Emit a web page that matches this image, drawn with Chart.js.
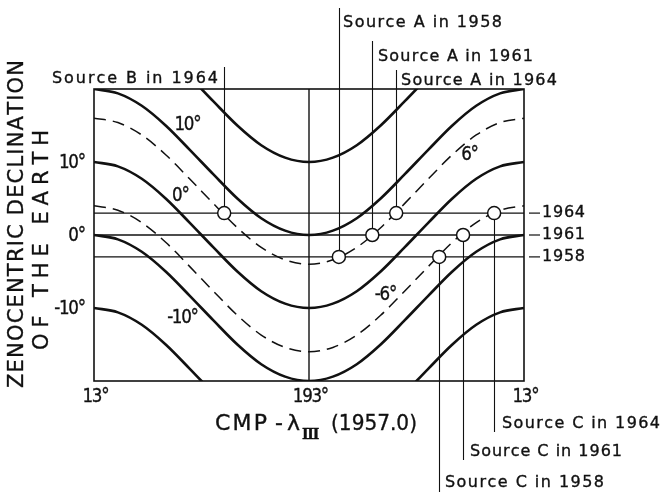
<!DOCTYPE html>
<html>
<head>
<meta charset="utf-8">
<script src="https://cdn.jsdelivr.net/npm/chart.js@4/dist/chart.umd.min.js"></script>
<style>
  html, body { margin: 0; padding: 0; background: #fff; }
  #wrap { width: 662px; height: 493px; }
</style>
</head>
<body>
<div id="wrap"><canvas id="c" width="662" height="493"></canvas></div>
<script>
// CMP − λIII sample longitudes (deg); 373° is the same meridian as 13°
const lonSamples = [13, 33, 53, 73, 93, 113, 133, 153, 173, 193, 213, 233, 253, 273, 293, 313, 333, 353, 373];

// Solid curves: Earth's zenocentric declination (deg) along each curve
const curvePlus20  = [30, 29.4, 27.7, 25, 21.7, 18.3, 15, 12.3, 10.6, 10, 10.6, 12.3, 15, 18.3, 21.7, 25, 27.7, 29.4, 30];
const curvePlus10  = [20, 19.4, 17.7, 15, 11.7, 8.3, 5, 2.3, 0.6, 0, 0.6, 2.3, 5, 8.3, 11.7, 15, 17.7, 19.4, 20];
const curveZero    = [10, 9.4, 7.7, 5, 1.7, -1.7, -5, -7.7, -9.4, -10, -9.4, -7.7, -5, -1.7, 1.7, 5, 7.7, 9.4, 10];
const curveMinus10 = [0, -0.6, -2.3, -5, -8.3, -11.7, -15, -17.7, -19.4, -20, -19.4, -17.7, -15, -11.7, -8.3, -5, -2.3, -0.6, 0];
const curveMinus20 = [-10, -10.6, -12.3, -15, -18.3, -21.7, -25, -27.7, -29.4, -30, -29.4, -27.7, -25, -21.7, -18.3, -15, -12.3, -10.6, -10];

// Dashed curves
const curvePlus6  = [16, 15.4, 13.7, 11, 7.7, 4.3, 1, -1.7, -3.4, -4, -3.4, -1.7, 1, 4.3, 7.7, 11, 13.7, 15.4, 16];
const curveMinus6 = [4, 3.4, 1.7, -1, -4.3, -7.7, -11, -13.7, -15.4, -16, -15.4, -13.7, -11, -7.7, -4.3, -1, 1.7, 3.4, 4];

// Earth's declination at three epochs
const epochYears = ['1964', '1961', '1958'];
const epochDecl  = [3, 0, -3];

// Source crossings
const sourceNames = ['Source B in 1964', 'Source A in 1958', 'Source A in 1961', 'Source A in 1964',
                     'Source C in 1958', 'Source C in 1961', 'Source C in 1964'];
const sourceLon  = [122, 218, 246, 266, 302, 322, 348];
const sourceDecl = [3, -3, 0, 3, -3, 0, 3];

// Axis ticks
const xTickValues = [13, 193, 373];
const xTickLabels = ['13°', '193°', '13°'];
const yTickValues = [10, 0, -10];
const yTickLabels = ['10°', '0°', '-10°'];

// Curve labels
const curveLabelText = ['10°', '0°', '-10°', '6°', '-6°'];
const curveLabelLon  = [91.7, 85.8, 87.5, 327.8, 257.5];
const curveLabelDecl = [15.1, 5.4, -11.4, 10.9, -8.2];

// ---- presentation ----
const INK = '#111';
const FONT = '"DejaVu Sans", "Liberation Sans", sans-serif';

// where each source's leader line ends and its label sits (pixels)
const leaderLayout = [
  { endY: 67,  tx: 218, ty: 83,  w: 166, align: 'right' },
  { endY: 8,   tx: 343, ty: 27,  w: 159, align: 'left' },
  { endY: 41,  tx: 378, ty: 61,  w: 155, align: 'left' },
  { endY: 70,  tx: 401, ty: 85,  w: 156, align: 'left' },
  { endY: 492, tx: 445, ty: 487, w: 159, align: 'left' },
  { endY: 460, tx: 470, ty: 456, w: 152, align: 'left' },
  { endY: 432, tx: 502, ty: 428, w: 158, align: 'left' }
];

const xy = (xs, ys) => xs.map((x, i) => ({ x, y: ys[i] }));

function curve(values, dashed) {
  return {
    data: xy(lonSamples, values),
    showLine: true,
    borderColor: INK,
    borderWidth: dashed ? 1.5 : 2.6,
    borderDash: dashed ? [12, 7] : [],
    pointRadius: 0,
    cubicInterpolationMode: 'monotone',
    fill: false,
    order: 1
  };
}

function straight(points, width) {
  return {
    data: points,
    showLine: true,
    borderColor: INK,
    borderWidth: width,
    pointRadius: 0,
    fill: false,
    order: 2
  };
}

// text drawn glyph by glyph, stretched to a given span with extra spacing
function spacedText(ctx, str, x, y, opt) {
  const size = opt.size;
  ctx.font = `${opt.weight || ''} ${size}px ${opt.family || FONT}`;
  const chars = [...str];
  const widths = chars.map(ch => ctx.measureText(ch).width);
  const natural = widths.reduce((a, b) => a + b, 0);
  let gap = opt.gap || 0, sx = opt.sx || 1;
  if (opt.width) {
    if (opt.width >= natural) gap = (opt.width - natural) / Math.max(1, chars.length - 1);
    else sx = opt.width / natural;
  }
  const total = opt.width || (natural + gap * (chars.length - 1)) * sx;
  const start = opt.align === 'right' ? -total : opt.align === 'center' ? -total / 2 : 0;
  ctx.save();
  ctx.translate(x, y);
  if (opt.rotate) ctx.rotate(opt.rotate);
  ctx.scale(sx, 1);
  ctx.fillStyle = INK;
  ctx.strokeStyle = INK;
  ctx.lineWidth = 0.35;
  ctx.textAlign = 'left';
  ctx.textBaseline = opt.baseline || 'alphabetic';
  let cx = start / sx;
  chars.forEach((ch, i) => {
    ctx.fillText(ch, cx, 0);
    ctx.strokeText(ch, cx, 0);
    cx += widths[i] + gap;
  });
  ctx.restore();
}

const framePlugin = {
  id: 'frame',
  beforeDatasetsDraw(chart) {
    const { ctx, chartArea: a, scales: { x, y } } = chart;
    ctx.save();
    ctx.strokeStyle = INK;
    ctx.lineWidth = 1.6;
    ctx.strokeRect(a.left, a.top, a.right - a.left, a.bottom - a.top);
    // leader lines from each crossing to its label
    ctx.lineWidth = 1.1;
    sourceLon.forEach((lon, i) => {
      const px = Math.round(x.getPixelForValue(lon)) + 0.5;
      const py = y.getPixelForValue(sourceDecl[i]);
      ctx.beginPath();
      ctx.moveTo(px, py);
      ctx.lineTo(px, leaderLayout[i].endY);
      ctx.stroke();
    });
    // epoch lines continue as short ticks beside their year
    ctx.lineWidth = 1.2;
    epochDecl.forEach(d => {
      const py = y.getPixelForValue(d);
      ctx.beginPath();
      ctx.moveTo(a.right + 5, py);
      ctx.lineTo(a.right + 16, py);
      ctx.stroke();
    });
    ctx.restore();
  },
  afterDraw(chart) {
    const { ctx, chartArea: a, scales: { x, y } } = chart;
    const tickOpt = { size: 19, gap: -1.5, sx: 0.88, baseline: 'middle' };
    // y tick labels
    yTickValues.forEach((v, i) => {
      spacedText(ctx, yTickLabels[i], a.left - 8, y.getPixelForValue(v) + 1,
        Object.assign({ align: 'right' }, tickOpt));
    });
    // x tick labels
    xTickValues.forEach((v, i) => {
      spacedText(ctx, xTickLabels[i], x.getPixelForValue(v) + 2, a.bottom + 16,
        Object.assign({ align: 'center' }, tickOpt));
    });
    // curve labels
    curveLabelText.forEach((t, i) => {
      spacedText(ctx, t, x.getPixelForValue(curveLabelLon[i]), y.getPixelForValue(curveLabelDecl[i]),
        Object.assign({ align: 'center' }, tickOpt));
    });
    // epoch labels
    epochDecl.forEach((d, i) => {
      spacedText(ctx, epochYears[i], a.right + 18, y.getPixelForValue(d),
        { size: 16, width: 43, baseline: 'middle' });
    });
    // source labels
    sourceNames.forEach((n, i) => {
      const L = leaderLayout[i];
      spacedText(ctx, n, L.tx, L.ty, { size: 16, width: L.w, align: L.align });
    });
    // y axis title (two lines, rotated)
    spacedText(ctx, 'ZENOCENTRIC DECLINATION', 17.5, 224,
      { size: 21, width: 328, align: 'center', baseline: 'middle', rotate: -Math.PI / 2 });
    spacedText(ctx, 'OF THE EARTH', 42.5, 240,
      { size: 21, width: 220, align: 'center', baseline: 'middle', rotate: -Math.PI / 2 });
    // x axis title: CMP − λIII (1957.0)
    spacedText(ctx, 'CMP', 215, 430, { size: 22, width: 52 });
    spacedText(ctx, '-', 275, 430, { size: 22 });
    spacedText(ctx, 'λ', 287, 430, { size: 22 });
    spacedText(ctx, 'III', 302, 439, { size: 14, family: '"DejaVu Serif", serif', weight: 'bold', gap: -1.2 });
    spacedText(ctx, '(1957.0)', 331, 430, { size: 22, width: 86 });
  }
};

new Chart(document.getElementById('c'), {
  type: 'scatter',
  data: {
    datasets: [
      // center meridian
      straight([{ x: 193, y: -20 }, { x: 193, y: 20 }], 1.4),
      // epoch lines
      ...epochDecl.map(d => straight([{ x: 13, y: d }, { x: 373, y: d }], 1.3)),
      curve(curvePlus20), curve(curvePlus10), curve(curveZero), curve(curveMinus10), curve(curveMinus20),
      curve(curvePlus6, true), curve(curveMinus6, true),
      {
        data: xy(sourceLon, sourceDecl),
        showLine: false,
        pointRadius: 6.5,
        pointBackgroundColor: '#fff',
        pointBorderColor: INK,
        pointBorderWidth: 1.5,
        order: 0
      }
    ]
  },
  options: {
    responsive: false,
    devicePixelRatio: 1,
    animation: false,
    events: [],
    layout: { padding: { top: 89, right: 138, left: 0, bottom: 0 } },
    plugins: { legend: { display: false }, tooltip: { enabled: false } },
    scales: {
      x: {
        type: 'linear', min: 13, max: 373,
        ticks: { display: false }, grid: { display: false }, border: { display: false },
        afterFit: s => { s.height = 112; }
      },
      y: {
        type: 'linear', min: -20, max: 20,
        ticks: { display: false }, grid: { display: false }, border: { display: false },
        afterFit: s => { s.width = 94; }
      }
    }
  },
  plugins: [framePlugin]
});
</script>
</body>
</html>
